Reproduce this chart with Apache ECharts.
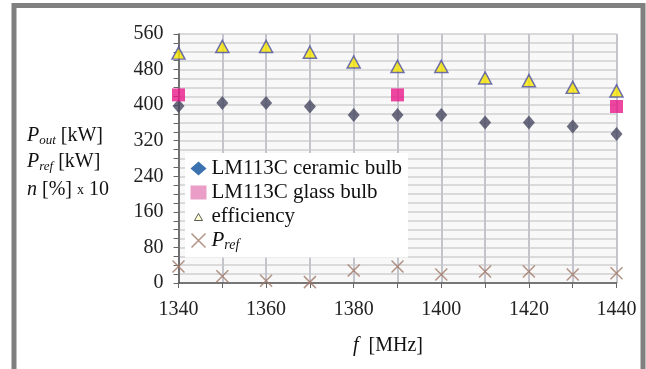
<!DOCTYPE html>
<html><head><meta charset="utf-8">
<script src="https://cdn.jsdelivr.net/npm/echarts@6/dist/echarts.min.js"></script>
<style>html,body{margin:0;padding:0;background:#fff}#c{width:646px;height:369px}</style>
</head><body><div id="c"></div>
<script>
// ---- data ----
const freq = [1340, 1350, 1360, 1370, 1380, 1390, 1400, 1410, 1420, 1430, 1440];
const ceramic = [398, 405, 405, 397, 378, 378, 378, 361, 361, 352, 335];
const glassFreq = [1340, 1390, 1440];
const glass = [423, 423, 397];
const efficiency = [517, 532, 532, 519, 497, 487, 487, 461, 455, 440, 432];
const pref = [37, 15, 5, 2, 28, 37, 19, 26, 26, 19, 22];
const xTickLabels = [1340, 1360, 1380, 1400, 1420, 1440];
const yTickLabels = [0, 80, 160, 240, 320, 400, 480, 560];
const seriesNames = ['LM113C ceramic bulb', 'LM113C glass bulb', 'efficiency', 'Pref'];

const FONT = "'Liberation Serif','Times New Roman',serif";
const chart = echarts.init(document.getElementById('c'));

const pair = (xs, ys) => xs.map((x, i) => [x, ys[i]]);
const crossPath = 'path://M0,0L10,10M10,0L0,10';
const smallTriPath = 'path://M0,0M8,4L12,11L4,11ZM16,14';

chart.setOption({
  animation: false,
  backgroundColor: '#fff',
  grid: {
    left: 178.5, right: 29.5, top: 34, bottom: 86,
    show: true, backgroundColor: '#f8f8f8', borderColor: '#9a9a9a', borderWidth: 1
  },
  xAxis: {
    type: 'value', min: xTickLabels[0], max: xTickLabels[xTickLabels.length - 1], interval: 10,
    axisLine: { show: true, lineStyle: { color: '#555', width: 1.5 } },
    axisTick: { show: true, inside: false, length: 5, lineStyle: { color: '#666' } },
    axisLabel: {
      fontFamily: FONT, fontSize: 20, color: '#222', margin: 17,
      formatter: v => xTickLabels.indexOf(v) >= 0 ? String(v) : ''
    },
    splitLine: { show: true, lineStyle: { color: '#c4c4cc', width: 2 } }
  },
  yAxis: {
    type: 'value', min: yTickLabels[0], max: yTickLabels[yTickLabels.length - 1], interval: 80,
    axisLine: { show: true, lineStyle: { color: '#555', width: 1.5 } },
    axisTick: { show: true, length: 5, lineStyle: { color: '#666' } },
    minorTick: { show: true, splitNumber: 4, length: 5, lineStyle: { color: '#666' } },
    axisLabel: {
      fontFamily: FONT, fontSize: 20, color: '#222', margin: 15,
      formatter: v => yTickLabels.indexOf(v) >= 0 ? String(v) : ''
    },
    splitLine: { show: true, lineStyle: { color: '#dadada', width: 2 } },
    minorSplitLine: { show: true, lineStyle: { color: '#dadada', width: 2 } }
  },
  legend: {
    orient: 'vertical', left: 185, top: 153,
    backgroundColor: '#fff', padding: [5, 6, 5, 4], itemGap: 3,
    itemWidth: 16, itemHeight: 14,
    textStyle: {
      fontFamily: FONT, fontSize: 21, color: '#111',
      rich: {
        i: { fontFamily: FONT, fontSize: 21, fontStyle: 'italic', color: '#111' },
        s: { fontFamily: FONT, fontSize: 14, fontStyle: 'italic', color: '#111', padding: [10, 0, 0, 0] }
      }
    },
    formatter: n => n === 'Pref' ? '{i|P}{s|ref}' : n,
    data: [
      { name: seriesNames[0], icon: 'diamond', itemStyle: { color: '#0d4f9e' } },
      { name: seriesNames[1], icon: 'rect', itemStyle: { color: '#e585b9' } },
      { name: seriesNames[2], icon: smallTriPath, itemStyle: { color: '#ffffc8', borderColor: '#333', borderWidth: 1 } },
      { name: seriesNames[3], icon: crossPath, itemStyle: { color: 'none', borderColor: '#a07868', borderWidth: 1.5 } }
    ]
  },
  graphic: [
    { type: 'rect', silent: true, z: 100,
      shape: { x: 14, y: 5.5, width: 629, height: 400 },
      style: { fill: 'none', stroke: '#808080', lineWidth: 5 } },
    { type: 'text', left: 27, top: 126, style: {
      text: '{i|P}{s|out} [kW]', fontFamily: FONT, fontSize: 20, fill: '#111',
      rich: { i: { fontFamily: FONT, fontSize: 20, fontStyle: 'italic' },
              s: { fontFamily: FONT, fontSize: 13, fontStyle: 'italic', padding: [9, 0, 0, 0] } } } },
    { type: 'text', left: 27, top: 152, style: {
      text: '{i|P}{s|ref} [kW]', fontFamily: FONT, fontSize: 20, fill: '#111',
      rich: { i: { fontFamily: FONT, fontSize: 20, fontStyle: 'italic' },
              s: { fontFamily: FONT, fontSize: 13, fontStyle: 'italic', padding: [9, 0, 0, 0] } } } },
    { type: 'text', left: 27, top: 180, style: {
      text: '{i|n} [%] {x|x} 10', fontFamily: FONT, fontSize: 20, fill: '#111',
      rich: { i: { fontFamily: FONT, fontSize: 20, fontStyle: 'italic' },
              x: { fontFamily: FONT, fontSize: 14 } } } },
    { type: 'text', left: 353, top: 336, style: {
      text: '{i|f}  [MHz]', fontFamily: FONT, fontSize: 20, fill: '#111',
      rich: { i: { fontFamily: FONT, fontSize: 20, fontStyle: 'italic' } } } }
  ],
  series: [
    { name: seriesNames[0], type: 'scatter', clip: false, z: 3,
      data: pair(freq, ceramic), symbol: 'diamond', symbolSize: [12, 14],
      itemStyle: { color: '#474762' } },
    { name: seriesNames[1], type: 'scatter', clip: false, z: 4,
      data: pair(glassFreq, glass), symbol: 'rect', symbolSize: 13,
      itemStyle: { color: '#e8198b' } },
    { name: seriesNames[2], type: 'scatter', clip: false, z: 3,
      data: pair(freq, efficiency), symbol: 'triangle', symbolSize: [13, 12],
      itemStyle: { color: '#f7e600', borderColor: '#4b4fa8', borderWidth: 1.5 } },
    { name: seriesNames[3], type: 'scatter', clip: false, z: 5,
      data: pair(freq, pref), symbol: crossPath, symbolSize: 12,
      itemStyle: { color: 'none', borderColor: '#a07868', borderWidth: 1.5 } }
  ]
});
</script>
</body></html>
